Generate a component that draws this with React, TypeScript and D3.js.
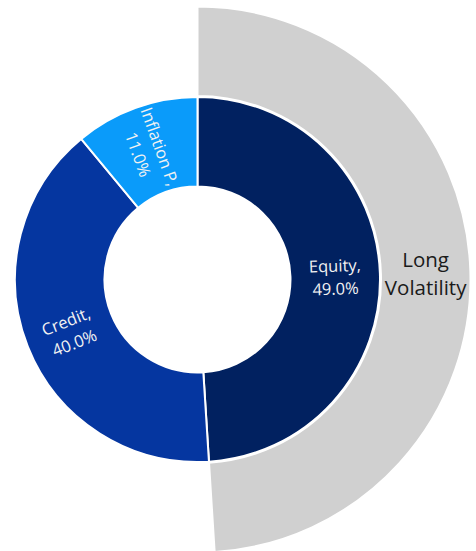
import React from "react";
import * as d3 from "d3";

// Inner ring: portfolio allocation
const innerNames = ["Equity", "Credit", "Inflation P"];
const innerValues = [49, 40, 11];
const innerColors = ["#012160", "#0536A0", "#0A9BFA"];

// Outer ring: overlay segment (remainder left empty)
const outerNames = ["Long Volatility", ""];
const outerValues = [49, 51];
const outerColors = ["#D0D0D0", "none"];

const W = 476;
const H = 551;
const cx = 197.5;
const cy = 279.5;
const holeR = 93;
const ring1Outer = 182.5;
const ring2Inner = 183.5;
const ring2Outer = 273;

const FONT = "'Open Sans', 'Noto Sans', sans-serif";

export default function App() {
  const pie = d3
    .pie<number>()
    .sort(null)
    .value((d) => d)
    .startAngle(0)
    .endAngle(2 * Math.PI);

  const innerArcs = pie(innerValues);
  const outerArcs = pie(outerValues);

  const arcInner = d3.arc<d3.PieArcDatum<number>>().innerRadius(holeR).outerRadius(ring1Outer);
  const arcOuter = d3.arc<d3.PieArcDatum<number>>().innerRadius(ring2Inner).outerRadius(ring2Outer);

  // Radial label orientation, flipped on the left half so text stays readable
  const rotFor = (a: number) => {
    const deg = (a * 180) / Math.PI;
    return deg < 180 ? deg - 90 : deg - 270;
  };

  return (
    <svg
      width={W}
      height={H}
      style={{ position: "absolute", left: 0, top: 0, background: "#fff" }}
    >
      <g transform={`translate(${cx},${cy})`}>
        {outerArcs.map((a, i) =>
          outerColors[i] === "none" ? null : (
            <path key={`o${i}`} d={arcOuter(a) || ""} fill={outerColors[i]} stroke="#fff" strokeWidth={2} />
          )
        )}
        {innerArcs.map((a, i) => (
          <path key={`i${i}`} d={arcInner(a) || ""} fill={innerColors[i]} stroke="#fff" strokeWidth={2} />
        ))}
        {innerArcs.map((a, i) => {
          const [x, y] = arcInner.centroid(a);
          const mid = (a.startAngle + a.endAngle) / 2;
          const rot = rotFor(mid);
          return (
            <g key={`l${i}`} transform={`translate(${x},${y}) rotate(${rot})`}>
              <text
                textAnchor="middle"
                fontFamily={FONT}
                fontSize={16.5}
                fill="#F2F2F2"
              >
                <tspan x={0} y={-3.5}>{`${innerNames[i]},`}</tspan>
                <tspan x={0} y={19.5}>{`${innerValues[i].toFixed(1)}%`}</tspan>
              </text>
            </g>
          );
        })}
        {outerArcs.map((a, i) => {
          if (!outerNames[i]) return null;
          const [x, y] = arcOuter.centroid(a);
          const words = outerNames[i].split(" ");
          return (
            <text
              key={`ol${i}`}
              textAnchor="middle"
              fontFamily={FONT}
              fontSize={20.5}
              fill="#1a1a1a"
              transform={`translate(${x},${y})`}
            >
              <tspan x={0} y={-5}>{words[0]}</tspan>
              <tspan x={0} y={23}>{words[1]}</tspan>
            </text>
          );
        })}
      </g>
    </svg>
  );
}
